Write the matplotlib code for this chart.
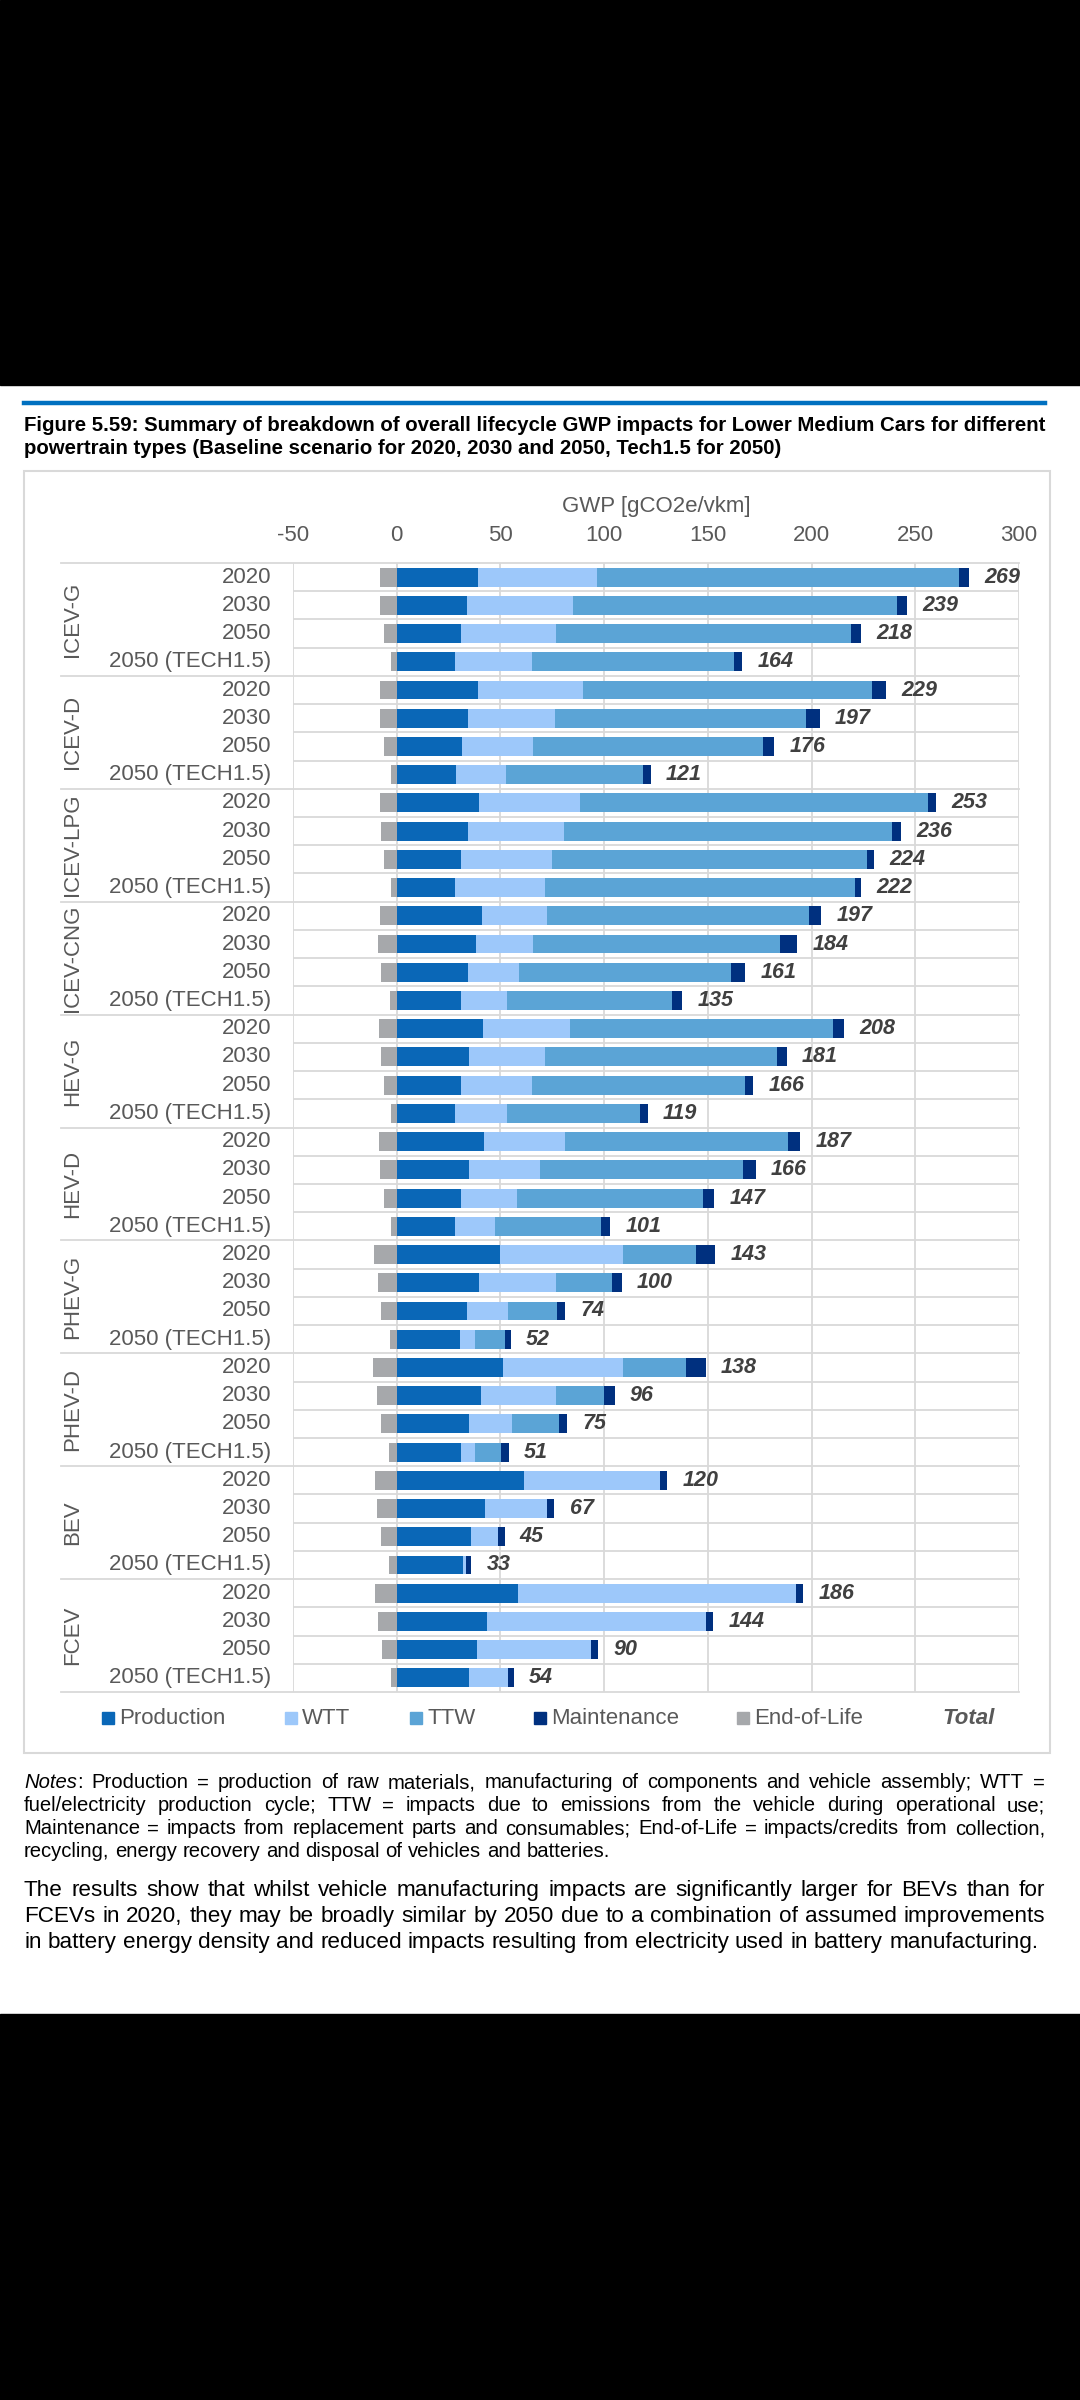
import matplotlib
matplotlib.use('Agg')
import matplotlib.pyplot as plt
import matplotlib.patches as mpatches
import matplotlib.transforms as mtransforms
import numpy as np

plt.rcParams['font.family'] = ['Liberation Sans', 'DejaVu Sans']
plt.rcParams['axes.unicode_minus'] = False

# Data (gCO2e/vkm)
groups = ['ICEV-G', 'ICEV-D', 'ICEV-LPG', 'ICEV-CNG', 'HEV-G', 'HEV-D',
          'PHEV-G', 'PHEV-D', 'BEV', 'FCEV']
years = ['2020', '2030', '2050', '2050 (TECH1.5)']

production = [39, 34, 31, 28, 39, 34.5, 31.5, 28.5, 39.5, 34.5, 31, 28,
              41, 38, 34.5, 31, 41.5, 35, 31, 28, 42, 35, 31, 28,
              50, 39.5, 34, 30.5, 51, 40.5, 35, 31, 61.5, 42.5, 36, 32,
              58.5, 43.5, 38.5, 35]
wtt = [57.5, 51, 46, 37, 51, 42, 34, 24, 49, 46, 44, 43.5,
       31.5, 27.5, 24.5, 22, 42, 36.5, 34, 25, 39, 34, 27, 19.5,
       59, 37.5, 19.5, 7, 58, 36.5, 20.5, 6.5, 65.5, 30, 13, 1.5,
       134, 105.5, 55, 18.5]
ttw = [174.5, 156, 142, 97.5, 139, 121, 111, 66, 167.5, 158.5, 151.5, 149.5,
       126.5, 119.5, 102, 79.5, 127, 112, 103, 64.5, 107.5, 98, 89.5, 51,
       35.5, 27, 24, 14.5, 30.5, 23, 22.5, 13, 0, 0, 0, 0,
       0, 0, 0, 0]
maintenance = [5, 5, 5, 4, 7, 6.5, 5.5, 4, 4, 4, 3.5, 3,
               5.5, 8, 7, 5, 5, 4.5, 4, 3.5, 6, 6, 5.5, 4.5,
               9, 4.5, 3.5, 3, 9.5, 5, 4, 3.5, 3.5, 3.5, 3, 2.5,
               3.5, 3.5, 3.5, 3]
end_of_life = [-8, -8, -6.3, -2.8, -8, -8, -6.3, -2.8, -8, -7.7, -6.3, -2.8,
               -8, -8.9, -7.5, -3, -8.4, -7.7, -6.3, -2.8, -8.4, -8, -6.3, -2.8,
               -11, -9.1, -7.5, -3.3, -11.2, -9.6, -7.7, -3.5, -10.7, -9.3, -7.7, -3.5,
               -10.3, -8.9, -7, -2.8]
totals = [269, 239, 218, 164, 229, 197, 176, 121, 253, 236, 224, 222,
          197, 184, 161, 135, 208, 181, 166, 119, 187, 166, 147, 101,
          143, 100, 74, 52, 138, 96, 75, 51, 120, 67, 45, 33,
          186, 144, 90, 54]

series = [('Production', production, '#0A67B7'),
          ('WTT', wtt, '#9DC8FA'),
          ('TTW', ttw, '#5BA4D6'),
          ('Maintenance', maintenance, '#00307F')]
eol_color = '#A6A8AB'
grey_text = '#595959'
grid_color = '#D9D9D9'

W, H = 1080, 2400


def fx(px):
    return px / W


def fy(py):
    return 1 - py / H


fig = plt.figure(figsize=(10.8, 24), dpi=100)
fig.patch.set_facecolor('white')
renderer = fig.canvas.get_renderer()

# black phone-screenshot bands
fig.patches.append(mpatches.Rectangle((0, fy(385)), 1, 385 / H, transform=fig.transFigure,
                                      color='black', zorder=0))
fig.patches.append(mpatches.Rectangle((0, 0), 1, fy(2014), transform=fig.transFigure,
                                      color='black', zorder=0))

# blue rule above the title
fig.add_artist(plt.Line2D([fx(24), fx(1045)], [fy(403), fy(403)], color='#0070C0', lw=3.2))


def text_width(s, size, **kw):
    t = fig.text(0, 0, s, fontsize=size, **kw)
    w = t.get_window_extent(renderer).width
    t.remove()
    return w


def fit_size(s, target_px, **kw):
    return 10 * target_px / text_width(s, 10, **kw)


# title
title_lines = ['Figure 5.59: Summary of breakdown of overall lifecycle GWP impacts for Lower Medium Cars for different',
               'powertrain types (Baseline scenario for 2020, 2030 and 2050, Tech1.5 for 2050)']
title_size = fit_size(title_lines[1], 760, fontweight='bold')
for line, py in zip(title_lines, [424, 447]):
    fig.text(fx(24), fy(py + 0.36 * title_size * 100 / 72), line, fontsize=title_size,
             fontweight='bold', va='baseline', ha='left')

# chart frame
fig.patches.append(mpatches.Rectangle((fx(24), fy(1753)), fx(1050) - fx(24), (1753 - 471) / H,
                                      transform=fig.transFigure, fill=False,
                                      edgecolor=grid_color, lw=1.5, zorder=1))

ax = fig.add_axes([fx(293), fy(1692), fx(1019) - fx(293), (1692 - 563) / H])
n = len(totals)
ypos = np.arange(n) + 0.5
bar_h = 0.67

left = np.zeros(n)
for name, vals, col in series:
    vals = np.array(vals, dtype=float)
    ax.barh(ypos, vals, left=left, height=bar_h, color=col, zorder=3)
    left = left + vals
ax.barh(ypos, end_of_life, height=bar_h, color=eol_color, zorder=3)

for y, end, tot in zip(ypos, left, totals):
    ax.annotate(str(tot), xy=(end, y), xytext=(11, 0), textcoords='offset points',
                va='center', ha='left', fontsize=15.5, fontweight='bold', style='italic',
                color='#404040', zorder=4)

ax.set_xlim(-50, 300)
ax.set_ylim(n, 0)
ax.set_xticks(np.arange(-50, 301, 50))
ax.xaxis.tick_top()
ax.tick_params(axis='x', length=0, pad=12, labelsize=16, labelcolor=grey_text)
ax.set_yticks([])
ax.grid(axis='x', color=grid_color, lw=1.3, zorder=0)
for s in ax.spines.values():
    s.set_visible(False)

# row separators inside groups
inner = [i for i in range(1, n) if i % 4 != 0]
ax.hlines(inner, -50, 300, color=grid_color, lw=1.3, zorder=1)

# group separators reach into the label area
blend = mtransforms.blended_transform_factory(fig.transFigure, ax.transData)
for i in range(0, n + 1, 4):
    ax.plot([fx(61), fx(1019)], [i, i], transform=blend, color=grid_color, lw=1.3,
            clip_on=False, zorder=1)

# category labels
for i in range(n):
    ax.text(fx(271), ypos[i], years[i % 4], transform=blend, ha='right', va='center',
            fontsize=16, color=grey_text)
for g, name in enumerate(groups):
    ax.text(fx(73), g * 4 + 2, name, transform=blend, ha='center', va='center',
            rotation=90, fontsize=16, color=grey_text)

fig.text(fx(656), fy(507), 'GWP [gCO2e/vkm]', ha='center', va='center', fontsize=16, color=grey_text)

# legend
legend_items = [('Production', '#0A67B7', 102), ('WTT', '#9DC8FA', 285), ('TTW', '#5BA4D6', 410),
                ('Maintenance', '#00307F', 534), ('End-of-Life', eol_color, 737)]
for label, col, px in legend_items:
    fig.patches.append(mpatches.Rectangle((fx(px), fy(1724)), fx(12), 12 / H,
                                          transform=fig.transFigure, color=col))
    fig.text(fx(px + 17), fy(1718), label, ha='left', va='center', fontsize=16, color=grey_text)
fig.text(fx(942), fy(1718), 'Total', ha='left', va='center', fontsize=16, fontweight='bold',
         style='italic', color=grey_text)


def draw_justified(words, x0, x1, py, size, justify=True):
    # words: list of words, each a list of (text, style) pieces
    widths = []
    for word in words:
        widths.append([text_width(t, size, style=st) for t, st in word])
    total = sum(sum(w) for w in widths)
    if justify and len(words) > 1:
        gap = (x1 - x0 - total) / (len(words) - 1)
    else:
        gap = text_width('a a', size) - text_width('aa', size)
    base = py + 0.36 * size * 100 / 72
    x = x0
    for word, ws in zip(words, widths):
        for (t, st), w in zip(word, ws):
            fig.text(fx(x), fy(base), t, fontsize=size, style=st, ha='left', va='baseline')
            x += w
        x += gap


def plain_words(s):
    return [[(w, 'normal')] for w in s.split()]


notes_lines = ['Production = production of raw materials, manufacturing of components and vehicle assembly; WTT =',
               'fuel/electricity production cycle; TTW = impacts due to emissions from the vehicle during operational use;',
               'Maintenance = impacts from replacement parts and consumables; End-of-Life = impacts/credits from collection,',
               'recycling, energy recovery and disposal of vehicles and batteries.']
notes_size = fit_size(notes_lines[3], 587)
first = [[('Notes', 'italic'), (':', 'normal')]] + plain_words(notes_lines[0])
draw_justified(first, 24, 1045, 1781, notes_size)
draw_justified(plain_words(notes_lines[1]), 24, 1045, 1804, notes_size)
draw_justified(plain_words(notes_lines[2]), 24, 1045, 1827, notes_size)
draw_justified(plain_words(notes_lines[3]), 24, 1045, 1850, notes_size, justify=False)

para_lines = ['The results show that whilst vehicle manufacturing impacts are significantly larger for BEVs than for',
              'FCEVs in 2020, they may be broadly similar by 2050 due to a combination of assumed improvements',
              'in battery energy density and reduced impacts resulting from electricity used in battery manufacturing.']
para_size = fit_size(para_lines[2], 1015)
draw_justified(plain_words(para_lines[0]), 24, 1045, 1888, para_size)
draw_justified(plain_words(para_lines[1]), 24, 1045, 1914, para_size)
draw_justified(plain_words(para_lines[2]), 24, 1045, 1940, para_size, justify=False)

fig.savefig('out.png', dpi=100)
